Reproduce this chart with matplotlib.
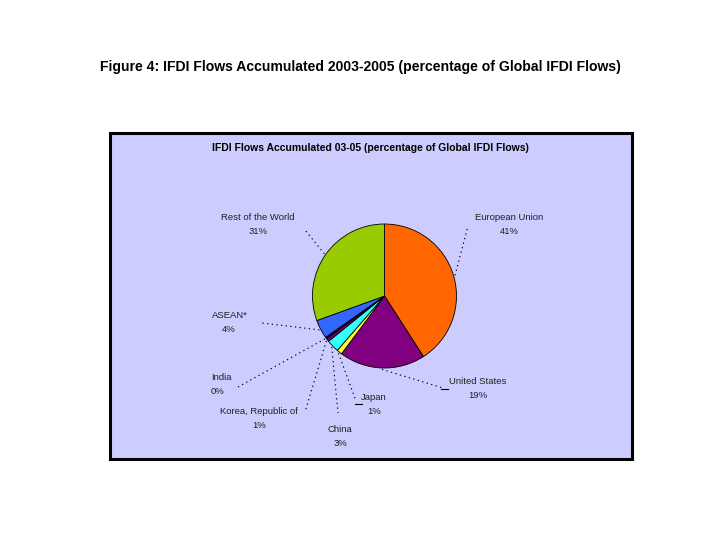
import numpy as np
import matplotlib
matplotlib.use("Agg")
import matplotlib.pyplot as plt
from matplotlib.patches import Rectangle

plt.rcParams['font.family'] = ['Liberation Sans', 'DejaVu Sans']

# ---- data ----
categories = ["European Union", "United States", "Japan", "China",
              "Korea, Republic of", "India", "ASEAN*", "Rest of the World"]
values = [41.0, 19.3, 1.2, 2.8, 0.7, 0.4, 4.2, 30.6]
pct_labels = ["41%", "19%", "1%", "3%", "1%", "0%", "4%", "31%"]
colors = ["#FF6600", "#800080", "#FFFF33", "#33FFFF",
          "#800060", "#000080", "#3366FF", "#99CC00"]

fig_title = "Figure 4: IFDI Flows Accumulated 2003-2005 (percentage of Global IFDI Flows)"
chart_title = "IFDI Flows Accumulated 03-05 (percentage of Global IFDI Flows)"

# ---- layout (pixel coordinates, y measured from top) ----
W, H = 720, 540
def Y(y):
    return H - y

label_layout = {
    "European Union": dict(xy=(509, 217), ha="center", end=(468, 226), tick=None),
    "United States": dict(xy=(478, 381), ha="center", end=(443, 388), tick=(441, 448, 389)),
    "Japan": dict(xy=(374, 397), ha="center", end=(356, 401), tick=(355, 362, 404)),
    "China": dict(xy=(340, 429), ha="center", end=(338, 413), tick=None),
    "Korea, Republic of": dict(xy=(259, 411), ha="center", end=(305, 412), tick=None),
    "India": dict(xy=(211, 378), ha="left", end=(238, 387), tick=None),
    "ASEAN*": dict(xy=(212, 316), ha="left", end=(262, 323), tick=None),
    "Rest of the World": dict(xy=(258, 217), ha="center", end=(305, 230), tick=None),
}
second_line_offset = {"India": 0, "ASEAN*": 10}

fig = plt.figure(figsize=(7.2, 5.4), dpi=100)
fig.patch.set_facecolor("white")
ax = fig.add_axes([0, 0, 1, 1])

# main figure title
ax.text(360, Y(67), fig_title, ha="center", va="center",
        fontsize=10.1, fontweight="bold", color="black")

# chart frame
ax.add_patch(Rectangle((110, Y(459)), 522, 459 - 132.5, facecolor="#CCCCFF",
                       edgecolor="black", linewidth=2.2, zorder=1))

# inner chart title
ax.text(370.5, Y(148), chart_title, ha="center", va="center",
        fontsize=7.5, fontweight="bold", color="black", zorder=3)

# pie
cx, cy, r = 384.5, Y(296), 72
wedges, _ = ax.pie(values, colors=colors, startangle=90, counterclock=False,
                   center=(cx, cy), radius=r,
                   wedgeprops=dict(edgecolor="black", linewidth=0.6),
                   frame=True)
ax.set_xlim(0, W)
ax.set_ylim(0, H)
ax.set_aspect("equal")
ax.axis("off")
for w in wedges:
    w.set_zorder(2)

# labels and leader lines
for w, cat, pct in zip(wedges, categories, pct_labels):
    lay = label_layout[cat]
    mid = np.deg2rad((w.theta1 + w.theta2) / 2)
    sx = cx + r * 1.02 * np.cos(mid)
    sy = cy + r * 1.02 * np.sin(mid)
    ex, ey = lay["end"]
    ax.plot([sx, ex], [sy, Y(ey)], color="black", lw=0.8,
            linestyle=(0, (1.2, 3.0)), zorder=3)
    if lay["tick"] is not None:
        x0, x1, ty = lay["tick"]
        ax.plot([x0, x1], [Y(ty), Y(ty)], color="black", lw=0.8, zorder=3)
    tx, ty = lay["xy"]
    ax.text(tx, Y(ty), cat, ha=lay["ha"], va="center", fontsize=6.8,
            color="#202020", zorder=3)
    off = second_line_offset.get(cat, 0)
    if lay["ha"] == "center":
        ax.text(tx, Y(ty + 14), pct, ha="center", va="center", fontsize=6.8,
                color="#202020", zorder=3)
    else:
        ax.text(tx + off, Y(ty + 14), pct, ha="left", va="center",
                fontsize=6.8, color="#202020", zorder=3)

fig.savefig("out.png", dpi=100, facecolor="white")
